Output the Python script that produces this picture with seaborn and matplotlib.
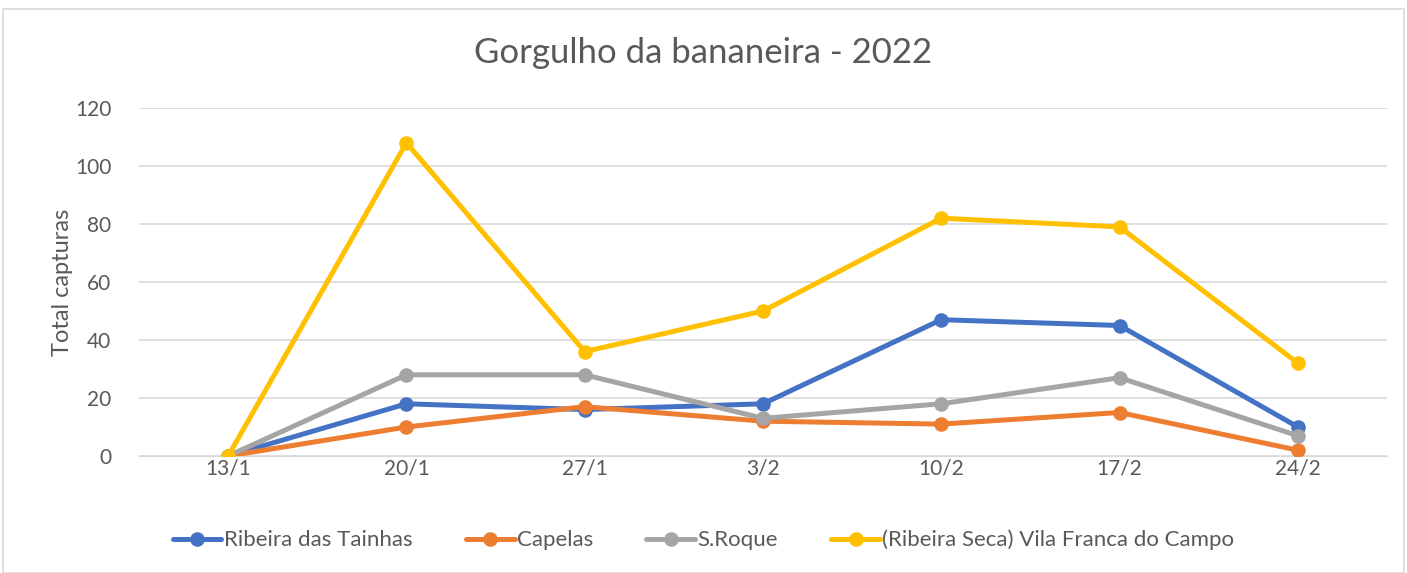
import matplotlib
matplotlib.use("Agg")
import matplotlib.pyplot as plt
import pandas as pd
import seaborn as sns

# dates of the captures
datas = ["13/1", "20/1", "27/1", "3/2", "10/2", "17/2", "24/2"]

ribeira_tainhas = [0, 18, 16, 18, 47, 45, 10]
capelas = [0, 10, 17, 12, 11, 15, 2]
s_roque = [0, 28, 28, 13, 18, 27, 7]
vila_franca = [0, 108, 36, 50, 82, 79, 32]

locais = ["Ribeira das Tainhas", "Capelas", "S.Roque",
          "(Ribeira Seca) Vila Franca do Campo"]
cores = ["#4472C4", "#ED7D31", "#A5A5A5", "#FFC000"]

rows = []
for nome, vals in zip(locais, [ribeira_tainhas, capelas, s_roque, vila_franca]):
    for i, v in enumerate(vals):
        rows.append({"data": datas[i], "pos": i, "local": nome, "capturas": v})
df = pd.DataFrame(rows)

sns.set_style("white")
plt.rcParams['font.family'] = ['Lato', 'DejaVu Sans']

fig = plt.figure(figsize=(14.07, 5.73), dpi=100)
ax = fig.add_axes([139 / 1407, 1 - 456 / 573, (1387 - 139) / 1407, (456 - 108) / 573])

sns.lineplot(data=df, x="pos", y="capturas", hue="local", palette=cores,
             marker="o", markersize=10.5, markeredgewidth=0, linewidth=3.6,
             ax=ax, legend=False, zorder=3)

ax.set_xlim(-0.5, 6.5)
ax.set_ylim(0, 120)
ax.set_yticks(range(0, 121, 20))
ax.set_xticks(range(len(datas)))
ax.set_xticklabels(datas)
ax.grid(axis="y", color="#D9D9D9", linewidth=1.2)
ax.set_axisbelow(True)
for s in ["top", "right", "left"]:
    ax.spines[s].set_visible(False)
ax.spines["bottom"].set_color("#D9D9D9")
ax.tick_params(axis="both", length=0, labelsize=15, labelcolor="#595959")
ax.tick_params(axis="y", pad=20)
ax.tick_params(axis="x", pad=2)
ax.set_xlabel("")
ax.set_ylabel("Total capturas", fontsize=17, color="#595959", labelpad=1)

fig.suptitle("Gorgulho da bananeira - 2022", fontsize=25, color="#595959", y=0.935)

handles = [plt.Line2D([], [], color=c, marker="o", markersize=10.5, linewidth=3.6,
                      markeredgewidth=0) for c in cores]
fig.legend(handles, locais, loc="center", bbox_to_anchor=(0.5, 1 - 540 / 573),
           ncol=4, frameon=False, fontsize=16, labelcolor="#595959",
           handlelength=2.2, handletextpad=0.1, columnspacing=2.4)

# chart border
fig.patches.append(plt.Rectangle((3 / 1407, 0), 1 - 6 / 1407, 1 - 9 / 573,
                                 transform=fig.transFigure, fill=False,
                                 edgecolor="#D9D9D9", linewidth=1.2))

fig.savefig("out.png", dpi=100)
